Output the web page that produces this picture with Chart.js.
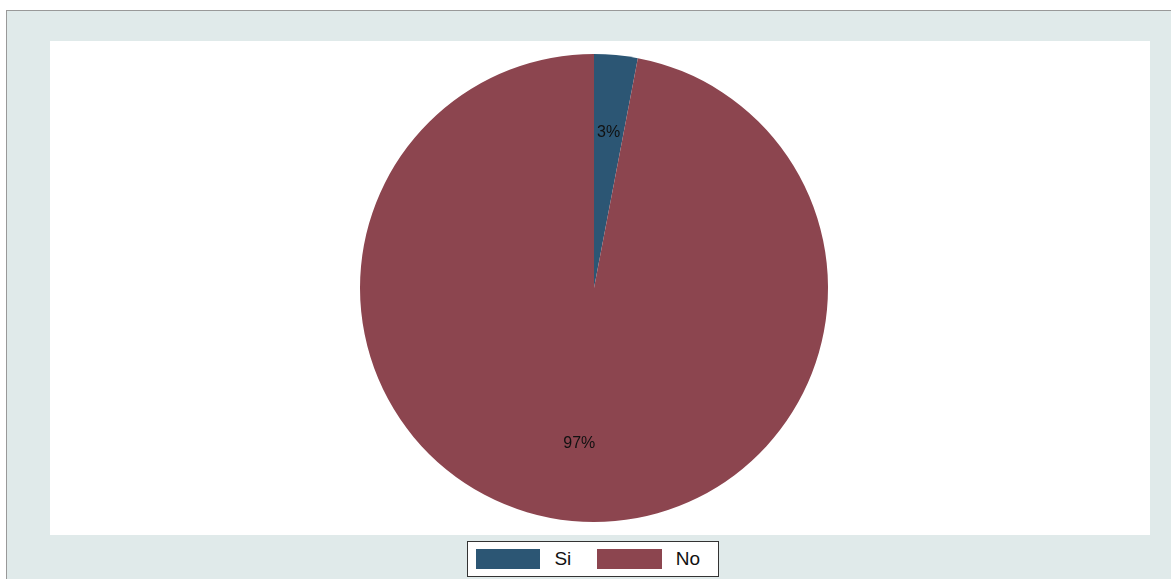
<!DOCTYPE html>
<html>
<head>
<meta charset="utf-8">
<script src="https://cdn.jsdelivr.net/npm/chart.js@4"></script>
<style>
  body { margin: 0; background: #fff; font-family: "Liberation Sans", Arial, sans-serif; }
  #outer { position: absolute; left: 6px; top: 10px; width: 1165px; height: 569px;
           background: #e0eaea; border-left: 1px solid #999; border-top: 1px solid #999; box-sizing: border-box; }
  #plot { position: absolute; left: 50px; top: 41px; width: 1100px; height: 494px; background: #fff; }
  #legend { position: absolute; left: 467px; top: 541px; width: 252px; height: 36px; background: #fff;
            border: 1px solid #333; box-sizing: border-box; display: flex; align-items: center; font-size: 19px; color: #111; }
  .sw { display: inline-block; width: 72px; height: 20px; margin-left: 8px; margin-right: 14px; }
  .lbl { margin-right: 18px; }
</style>
</head>
<body>
<div id="outer"></div>
<div id="plot"><canvas id="pie"></canvas></div>
<div id="legend"></div>
<script>
// ----------------------------- Data -----------------------------------------
const categories = ["Si", "No"];
const values = [3, 97];
const colors = ["#2c5674", "#8c454f"];

// ----------------------------- Labels plugin --------------------------------
const sliceLabels = {
    id: "sliceLabels",
    afterDatasetsDraw(chart) {
        const ctx = chart.ctx;
        const total = values.reduce((a, b) => a + b, 0);
        ctx.save();
        ctx.font = "16px 'Liberation Sans', Arial, sans-serif";
        ctx.fillStyle = "#111";
        ctx.textAlign = "center";
        ctx.textBaseline = "middle";
        chart.getDatasetMeta(0).data.forEach((arc, i) => {
            const mid = (arc.startAngle + arc.endAngle) / 2;
            const r = arc.outerRadius * 2 / 3;
            const pct = Math.round(values[i] / total * 100) + "%";
            ctx.fillText(pct, arc.x + Math.cos(mid) * r, arc.y + Math.sin(mid) * r);
        });
        ctx.restore();
    },
};

document.addEventListener("DOMContentLoaded", () => {
    new Chart(document.getElementById("pie"), {
        type: "pie",
        data: {
            labels: categories,
            datasets: [{ data: values, backgroundColor: colors, borderWidth: 0 }],
        },
        options: {
            responsive: true,
            maintainAspectRatio: false,
            animation: false,
            layout: { padding: { top: 13, bottom: 13, left: 0, right: 12 } },
            plugins: { legend: { display: false }, tooltip: { enabled: false } },
        },
        plugins: [sliceLabels],
    });

    const legend = document.getElementById("legend");
    categories.forEach((c, i) => {
        const sw = document.createElement("span");
        sw.className = "sw";
        sw.style.background = colors[i];
        legend.appendChild(sw);
        const t = document.createElement("span");
        t.className = "lbl";
        t.textContent = c;
        legend.appendChild(t);
    });
});
</script>
</body>
</html>
